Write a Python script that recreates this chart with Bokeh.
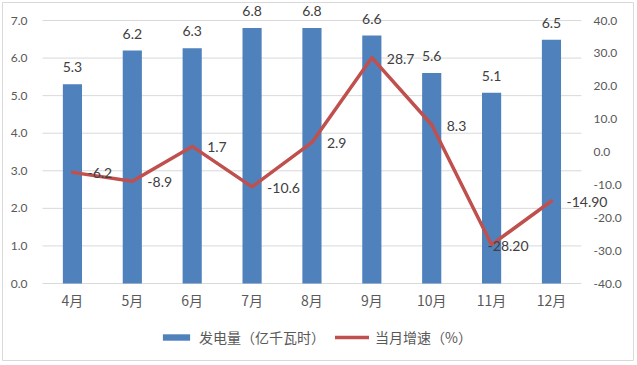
from bokeh.plotting import figure
from bokeh.models import (Range1d, LinearAxis, FixedTicker, NumeralTickFormatter,
                          ColumnDataSource, Legend, LegendItem)
from bokeh.core.properties import value
from bokeh.embed import file_html
from bokeh.resources import INLINE

# ---- data ----
months = ["4月", "5月", "6月", "7月", "8月", "9月", "10月", "11月", "12月"]
generation = [5.3, 6.2, 6.26, 6.8, 6.8, 6.6, 5.6, 5.08, 6.49]
generation_labels = ["5.3", "6.2", "6.3", "6.8", "6.8", "6.6", "5.6", "5.1", "6.5"]
growth = [-6.2, -8.9, 1.7, -10.6, 2.9, 28.7, 8.3, -28.2, -14.9]
growth_labels = ["-6.2", "-8.9", "1.7", "-10.6", "2.9", "28.7", "8.3", "-28.20", "-14.90"]
left_ticks = [0, 1, 2, 3, 4, 5, 6, 7]
right_ticks = [-40, -30, -20, -10, 0, 10, 20, 30, 40]

# ---- style / layout constants ----
BAR = "#4F81BD"
LINE = "#C0504D"
TXT = "#595959"
LBL = "#404040"
GRID = "#D9D9D9"
NUM_FONT = "Lato"
CJK_FONT = "Noto Sans CJK SC"

W, H = 637, 365
FL, FR, FT, FB = 2, 633, 2, 360          # frame (chart border) in pixels
PL, PR, PT, PB = 42, 580.9, 20, 283      # plot area in pixels
n = len(months)
xpos = [i + 1 for i in range(n)]

xs = (PR - PL) / n                        # px per category
x_start = 0.5 + (FL - PL) / xs
x_end = 0.5 + (FR - PL) / xs
lmin, lmax = left_ticks[0], left_ticks[-1]
ys = (PB - PT) / (lmax - lmin)
y_start = lmin - (FB - PB) / ys
y_end = lmax + (PT - FT) / ys
rmin, rmax = right_ticks[0], right_ticks[-1]
rs = (PB - PT) / (rmax - rmin)
r_start = rmin - (FB - PB) / rs
r_end = rmax + (PT - FT) / rs

src = ColumnDataSource(dict(
    x=xpos, m=months, gen=generation, genl=generation_labels,
    gr=growth, grl=growth_labels,
    gx=[15, 15, 15, 15, 15, 15, 15, -4, 15],
))

p = figure(x_range=Range1d(x_start, x_end), y_range=Range1d(y_start, y_end),
           width=W, height=H, output_backend="svg", toolbar_location=None,
           min_border_left=FL, min_border_right=W - FR, min_border_top=FT,
           min_border_bottom=H - FB)
p.extra_y_ranges = {"pct": Range1d(r_start, r_end)}
p.outline_line_color = GRID
p.outline_line_width = 1
p.background_fill_color = "white"
p.border_fill_color = "white"
p.xgrid.visible = False
p.ygrid.visible = False

# grid lines and category axis line, limited to the plot area
p.segment(x0=[0.5] * len(left_ticks), x1=[n + 0.5] * len(left_ticks),
          y0=left_ticks, y1=left_ticks, line_color=GRID, line_width=1)

bars = p.vbar(x="x", top="gen", width=0.32, source=src, fill_color=BAR, line_color=None)
line = p.line(x="x", y="gr", source=src, y_range_name="pct", line_color=LINE,
              line_width=3.5, line_join="round", line_cap="round")

p.text(x="x", y="gen", text="genl", source=src, text_align="center", text_baseline="bottom",
       y_offset=-12, text_font=value(NUM_FONT), text_font_size="14px", text_color=LBL)
p.text(x="x", y="gr", text="grl", source=src, y_range_name="pct", text_align="left",
       text_baseline="middle", x_offset="gx", y_offset=1, text_font=value(NUM_FONT),
       text_font_size="14px", text_color=LBL)

# left axis
ya = p.yaxis[0]
ya.ticker = FixedTicker(ticks=left_ticks)
ya.formatter = NumeralTickFormatter(format="0.0")
ya.axis_line_color = None
ya.major_tick_line_color = None
ya.minor_tick_line_color = None
ya.major_label_text_font = NUM_FONT
ya.major_label_text_font_size = "12px"
ya.major_label_text_color = TXT
ya.major_label_standoff = -31

# right axis
ra = LinearAxis(y_range_name="pct", ticker=FixedTicker(ticks=right_ticks),
                formatter=NumeralTickFormatter(format="0.0"))
ra.axis_line_color = None
ra.major_tick_line_color = None
ra.minor_tick_line_color = None
ra.major_label_text_font = NUM_FONT
ra.major_label_text_font_size = "12px"
ra.major_label_text_color = TXT
ra.major_label_standoff = -46
p.add_layout(ra, "right")

# category axis
xa = p.xaxis[0]
xa.ticker = FixedTicker(ticks=xpos)
xa.major_label_overrides = {x: m for x, m in zip(xpos, months)}
xa.axis_line_color = None
xa.major_tick_line_color = None
xa.minor_tick_line_color = None
xa.major_label_text_font = CJK_FONT
xa.major_label_text_font_size = "14px"
xa.major_label_text_color = TXT
xa.major_label_standoff = -77

legend = Legend(items=[LegendItem(label="发电量（亿千瓦时）", renderers=[bars]),
                       LegendItem(label="当月增速（%）", renderers=[line])],
                orientation="horizontal", location=(157, 13),
                glyph_width=34, glyph_height=8, label_height=20, label_standoff=6, spacing=10,
                padding=0, margin=0, background_fill_alpha=0, border_line_color=None,
                label_text_font=CJK_FONT, label_text_font_size="14px", label_text_color=TXT)
p.add_layout(legend, "center")

open("out.html", "w").write(file_html(p, INLINE))
